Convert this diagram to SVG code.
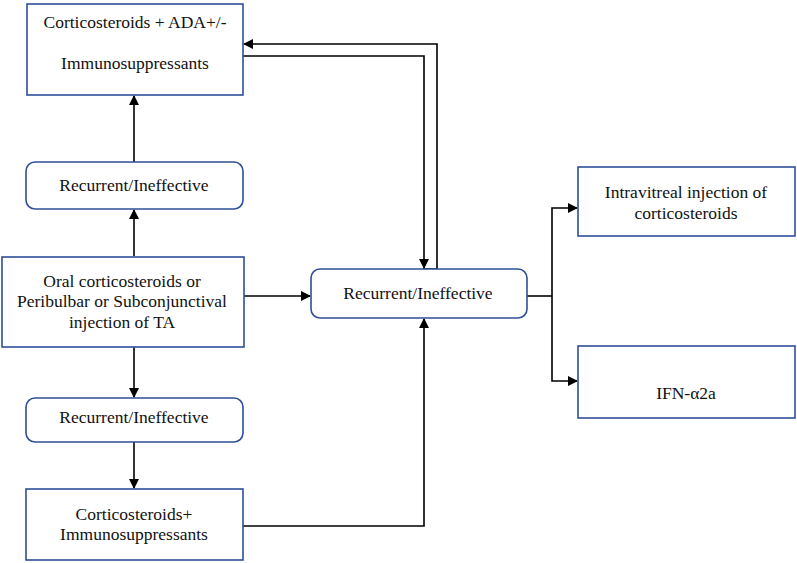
<svg xmlns="http://www.w3.org/2000/svg" width="797" height="563" viewBox="0 0 797 563">
<defs>
<marker id="ah" markerWidth="10" markerHeight="10" refX="9" refY="5" orient="auto" markerUnits="userSpaceOnUse">
<path d="M0,0 L10,5 L0,10 Z" fill="#000"/>
</marker>
</defs>
<style>
.box{fill:#fff;stroke:#2e4f98;stroke-width:1.6}
.t{font-family:'Liberation Serif','DejaVu Serif',serif;font-size:17.5px;fill:#111;text-anchor:middle}
.c{fill:none;stroke:#000;stroke-width:1.6}
.a{marker-end:url(#ah)}
</style>
<rect width="797" height="563" fill="#fff"/>
<g id="connectors">
<path class="c a" d="M134,162 V96"/>
<path class="c a" d="M134,256 V210"/>
<path class="c a" d="M134,347 V397"/>
<path class="c a" d="M134,442 V488"/>
<path class="c a" d="M243,296 H310"/>
<path class="c a" d="M243,526 H424 V319"/>
<path class="c a" d="M243,56 H424 V268"/>
<path class="c" d="M423,269 H437"/>
<path class="c a" d="M437,269 V44 H244"/>
<path class="c" d="M527,296 H552"/>
<path class="c a" d="M552,296 V208 H577"/>
<path class="c a" d="M552,296 V381 H577"/>
</g>
<g id="n1">
<rect class="box" x="27" y="4" width="216" height="91"/>
<text class="t" x="135" y="28">Corticosteroids + ADA+/-</text>
<text class="t" x="135" y="69">Immunosuppressants</text>
</g>
<g id="n2">
<rect class="box" x="26" y="162" width="217" height="47" rx="9"/>
<text class="t" x="134" y="191">Recurrent/Ineffective</text>
</g>
<g id="n3">
<rect class="box" x="2" y="257" width="242" height="90"/>
<text class="t" x="122" y="287">Oral corticosteroids or</text>
<text class="t" x="122" y="307">Peribulbar or Subconjunctival</text>
<text class="t" x="122" y="328">injection of TA</text>
</g>
<g id="n4">
<rect class="box" x="26" y="398" width="217" height="44" rx="9"/>
<text class="t" x="134" y="423">Recurrent/Ineffective</text>
</g>
<g id="n5">
<rect class="box" x="26" y="489" width="217" height="71"/>
<text class="t" x="134" y="520">Corticosteroids+</text>
<text class="t" x="134" y="540">Immunosuppressants</text>
</g>
<g id="n6">
<rect class="box" x="311" y="269" width="216" height="49" rx="9"/>
<text class="t" x="418" y="299">Recurrent/Ineffective</text>
</g>
<g id="n7">
<rect class="box" x="578" y="167" width="217" height="69"/>
<text class="t" x="686" y="198">Intravitreal injection of</text>
<text class="t" x="686" y="219">corticosteroids</text>
</g>
<g id="n8">
<rect class="box" x="578" y="346" width="217" height="72"/>
<text class="t" x="686" y="399">IFN-α2a</text>
</g>
</svg>
